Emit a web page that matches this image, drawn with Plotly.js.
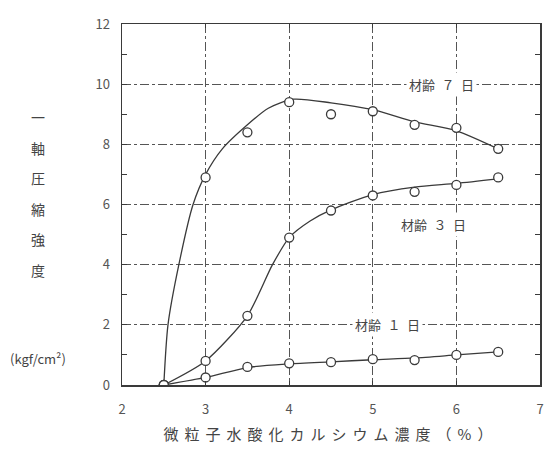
<!DOCTYPE html>
<html>
<head>
<meta charset="utf-8">
<script src="https://cdn.plot.ly/plotly-3.0.1.min.js"></script>
<style>
html,body{margin:0;padding:0;background:#fff;}
#chart{width:556px;height:464px;}
.xtitle{letter-spacing:6px;}
</style>
</head>
<body>
<div id="chart"></div>
<script>
// Measured points: concentration (%) vs. unconfined compressive strength (kgf/cm²)
const concentration = [2.5, 3.0, 3.5, 4.0, 4.5, 5.0, 5.5, 6.0, 6.5];
const day7 = [0, 6.9, 8.4, 9.4, 9.0, 9.1, 8.65, 8.55, 7.85];
const day3 = [0, 0.8, 2.3, 4.9, 5.8, 6.3, 6.42, 6.65, 6.9];
const day1 = [0, 0.25, 0.6, 0.72, 0.76, 0.86, 0.83, 1.0, 1.1];

// Hand-drawn fitted curves
const curve7X = [2.5, 2.55, 2.68, 2.85, 3.0, 3.2, 3.5, 3.75, 4.05, 4.5, 5.0, 5.5, 6.0, 6.5];
const curve7Y = [0, 2, 4, 6, 7.0, 7.85, 8.65, 9.2, 9.5, 9.38, 9.15, 8.75, 8.45, 7.85];
const curve3X = [2.5, 3.0, 3.5, 3.8, 4.0, 4.25, 4.5, 5.0, 5.5, 6.0, 6.5];
const curve3Y = [0, 0.8, 2.3, 4.0, 4.9, 5.45, 5.82, 6.33, 6.58, 6.7, 6.85];
const curve1X = concentration;
const curve1Y = [0, 0.25, 0.58, 0.7, 0.77, 0.84, 0.9, 1.0, 1.1];

const seriesLabels = ["材齢\u2002７\u2002日", "材齢\u2002３\u2002日", "材齢\u2002１\u2002日"];
const labelX = [5.82, 5.73, 5.17];
const labelY = [10.0, 5.32, 2.0];

const xTicks = [2, 3, 4, 5, 6, 7];
const yTicks = [0, 2, 4, 6, 8, 10, 12];
const yTitleChars = ["一", "軸", "圧", "縮", "強", "度"];
const yUnit = "(kgf/cm²)";
const xTitle = "微粒子水酸化カルシウム濃度（%）";

const ink = "#3a3a3a";
const font = "Noto Sans CJK JP, Noto Sans, sans-serif";

function curve(x, y) {
  return {x: x, y: y, type: "scatter", mode: "lines", hoverinfo: "skip",
    line: {color: ink, width: 1.3, shape: "spline", smoothing: 0.7}, showlegend: false};
}
function pts(y) {
  return {x: concentration, y: y, type: "scatter", mode: "markers", showlegend: false,
    marker: {symbol: "circle", size: 9, color: "#ffffff", line: {color: ink, width: 1.3}}};
}

const traces = [
  curve(curve7X, curve7Y), curve(curve3X, curve3Y), curve(curve1X, curve1Y),
  pts(day7), pts(day3), pts(day1)
];

const annotations = seriesLabels.map((t, i) => ({
  x: labelX[i], y: labelY[i], xref: "x", yref: "y", text: t, showarrow: false,
  bgcolor: "#ffffff", borderpad: 2, font: {family: font, size: 13, color: "#444"}
}));
yTitleChars.forEach((c, i) => {
  annotations.push({x: 38, y: 117 + i * 30.6, xref: "paper", yref: "paper", text: c,
    showarrow: false, font: {family: font, size: 14, color: "#444"}});
});
annotations.push({x: 38, y: 358, text: yUnit, showarrow: false,
  font: {family: font, size: 13, color: "#444"}});

// convert pixel positions of side labels into paper coords
const L = 122, R = 16, T = 24, B = 79, W = 556, H = 464;
annotations.forEach(a => {
  if (a.xref === "x") return;
  a.xref = "paper"; a.yref = "paper";
  a.x = (a.x - L) / (W - L - R);
  a.y = 1 - (a.y - T) / (H - T - B);
  a.xanchor = "center"; a.yanchor = "middle";
});

const axisCommon = {
  showline: true, linecolor: ink, linewidth: 1.5, mirror: "allticks",
  showgrid: true, gridcolor: "#555", gridwidth: 1, griddash: "dashdot",
  zeroline: false, ticks: "inside", ticklen: 4, tickcolor: ink,
  tickfont: {family: font, size: 13, color: "#555"}
};

const layout = {
  width: W, height: H,
  margin: {l: L, r: R, t: T, b: B},
  paper_bgcolor: "#fff", plot_bgcolor: "#fff",
  showlegend: false,
  xaxis: Object.assign({}, axisCommon, {
    range: [2, 7], tickvals: xTicks, ticktext: xTicks.map(String), ticklabelstandoff: 12,
    title: {text: xTitle, standoff: 12, font: {family: font, size: 15, color: "#444"}}
  }),
  yaxis: Object.assign({}, axisCommon, {
    range: [0, 12], tickvals: yTicks, ticktext: yTicks.map(String), ticklabelstandoff: 8,
    minor: {dtick: 1, ticks: "inside", ticklen: 5, tickcolor: ink, showgrid: false}
  }),
  annotations: annotations
};

Plotly.newPlot("chart", traces, layout, {staticPlot: true});
</script>
</body>
</html>
